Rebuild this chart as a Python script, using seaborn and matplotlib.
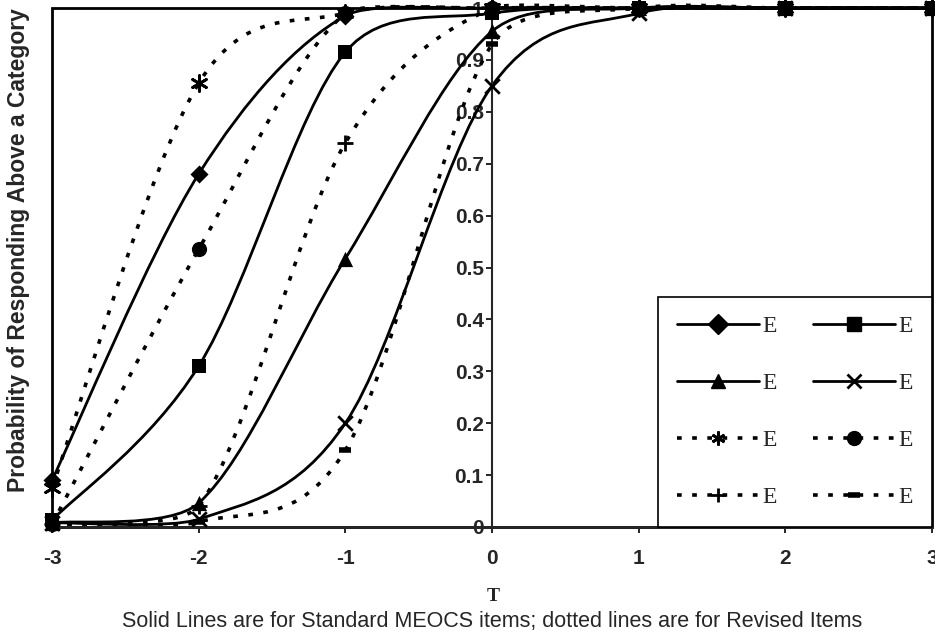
import numpy as np
import matplotlib
matplotlib.use("Agg")
import matplotlib.pyplot as plt
import seaborn as sns
from matplotlib.path import Path
from matplotlib.patches import PathPatch, Rectangle
from matplotlib.lines import Line2D

# values
T = [-3, -2, -1, 0, 1, 2, 3]
std_diamond = [0.09, 0.68, 0.985, 1.0, 1.0, 1.0, 1.0]
std_square = [0.013, 0.31, 0.915, 0.99, 1.0, 1.0, 1.0]
std_triangle = [0.008, 0.046, 0.517, 0.955, 1.0, 1.0, 1.0]
std_x = [0.008, 0.015, 0.2, 0.85, 0.99, 1.0, 1.0]
rev_asterisk = [0.075, 0.855, 0.99, 1.0, 1.0, 1.0, 1.0]
rev_circle = [0.005, 0.535, 0.99, 1.0, 1.0, 1.0, 1.0]
rev_plus = [0.005, 0.04, 0.74, 1.0, 1.0, 1.0, 1.0]
rev_dash = [0.005, 0.01, 0.148, 0.93, 1.0, 1.0, 1.0]

legend_labels = ["E"] * 8
y_ticks = [0, 0.1, 0.2, 0.3, 0.4, 0.5, 0.6, 0.7, 0.8, 0.9, 1]
y_tick_labels = ["0", "0.1", "0.2", "0.3", "0.4", "0.5", "0.6", "0.7", "0.8", "0.9", "1"]

SOLID = "-"
DOTTED = (0, (1.3, 2.9))
series = [
    (std_diamond, SOLID, "D", 85),
    (std_square, SOLID, "s", 110),
    (std_triangle, SOLID, "^", 120),
    (std_x, SOLID, "x", 110),
    (rev_asterisk, DOTTED, (6, 2, 0), 130),
    (rev_circle, DOTTED, "o", 120),
    (rev_plus, DOTTED, "+", 130),
    (rev_dash, DOTTED, "_", 80),
]


def smooth_path(xs, ys, slack=0.012):
    # Excel-style smoothed line: cubic Bezier through the points,
    # handles shortened so a segment only slightly over/undershoots
    pts = np.column_stack([xs, ys]).astype(float)
    n = len(pts)
    verts = [pts[0]]
    codes = [Path.MOVETO]

    def limit(h, lo, hi, base):
        y = base + h[1]
        if y < lo and h[1] != 0:
            h = h * (lo - base) / h[1]
        elif y > hi and h[1] != 0:
            h = h * (hi - base) / h[1]
        return h

    for i in range(n - 1):
        p0 = pts[max(i - 1, 0)]
        p1 = pts[i]
        p2 = pts[i + 1]
        p3 = pts[min(i + 2, n - 1)]
        lo = min(p1[1], p2[1]) - slack
        hi = max(p1[1], p2[1]) + slack
        h1 = limit((p2 - p0) / 6, lo, hi, p1[1])
        h2 = limit(-(p3 - p1) / 6, lo, hi, p2[1])
        verts += [p1 + h1, p2 + h2, p2]
        codes += [Path.CURVE4] * 3
    return Path(verts, codes)


sns.set_style("white")
fig = plt.figure(figsize=(9.35, 6.37), dpi=100)
ax = fig.add_axes([0.0556, 0.1727, 0.9412, 0.8147])

handles = []
for vals, ls, mk, size in series:
    ax.add_patch(PathPatch(smooth_path(T, vals), fill=False, edgecolor="black",
                           lw=2 if ls == SOLID else 2.6, linestyle=ls,
                           clip_on=False, zorder=2))
    lw_m = 2 if mk in ("x", "+", (6, 2, 0)) else (4 if mk == "_" else 0)
    sns.scatterplot(x=T, y=vals, marker=mk, s=size, color="black",
                    linewidth=lw_m, edgecolor="black", ax=ax, zorder=3,
                    clip_on=False)
    handles.append(Line2D([], [], color="black", linestyle=ls,
                          lw=2 if ls == SOLID else 2.6, marker=mk,
                          markersize=10 if mk != "_" else 8,
                          markeredgewidth=lw_m if lw_m else 1))

ax.set_xlim(-3, 3)
ax.set_ylim(0, 1)
ax.set_xticks(T)
ax.set_xticklabels([str(t) for t in T])
ax.set_yticks(y_ticks)
ax.set_yticklabels(y_tick_labels)

ax.spines["left"].set_position(("data", 0))
ax.spines["left"].set_linewidth(1.5)
ax.spines["bottom"].set_linewidth(2)
ax.spines["top"].set_visible(False)
ax.spines["right"].set_visible(False)
ax.add_patch(Rectangle((0, 0), 1, 1, transform=ax.transAxes, fill=False,
                       edgecolor="black", lw=2, clip_on=False, zorder=1))

ax.tick_params(axis="both", direction="out", length=4, width=1.2,
               color="black", labelsize=15, left=True, bottom=True)
ax.tick_params(axis="x", pad=12)
ax.tick_params(axis="y", pad=2)
for lab in ax.get_xticklabels() + ax.get_yticklabels():
    lab.set_fontweight("bold")
    lab.set_family("Liberation Sans")

# legend fills row by row in the reference: reorder for column-major fill
order = [0, 2, 4, 6, 1, 3, 5, 7]
leg = ax.legend([handles[i] for i in order], [legend_labels[i] for i in order],
                ncol=2, loc="lower right", bbox_to_anchor=(1, 0),
                borderaxespad=0, frameon=True, fancybox=False,
                handlelength=3.5, labelspacing=1.5, columnspacing=1.5,
                handletextpad=0.15, borderpad=0.8,
                prop={"family": "Liberation Serif", "size": 17})
leg.get_frame().set_edgecolor("black")
leg.get_frame().set_linewidth(1.2)
leg.get_frame().set_alpha(1)
leg.set_zorder(5)

fig.text(0.02, 0.607, "Probability of Responding Above a Category",
         rotation=90, ha="center", va="center", fontsize=16.5,
         fontweight="bold", family="Liberation Sans")
fig.text(0.528, 0.063, "T", ha="center", va="center", fontsize=14,
         fontweight="bold", family="Liberation Serif")
fig.text(0.526, 0.024,
         "Solid Lines are for Standard MEOCS items; dotted lines are for Revised Items",
         ha="center", va="center", fontsize=15.5, family="Liberation Sans")

fig.savefig("out.png", dpi=100)
